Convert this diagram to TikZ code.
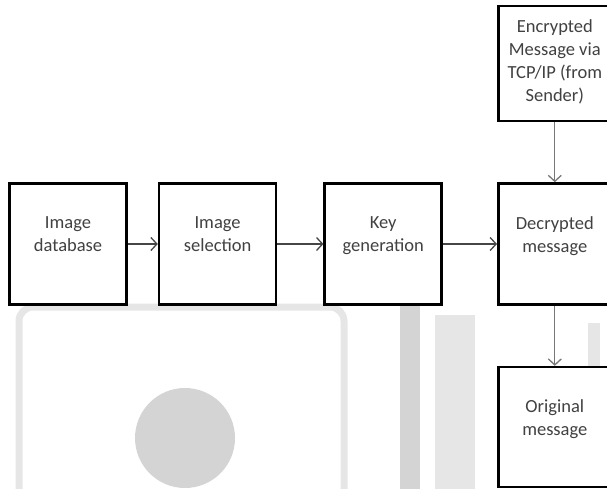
\documentclass[tikz,border=0pt]{standalone}
\usepackage{fontspec}
\setmainfont{Carlito}
\usepackage{xcolor}
\usepackage{tikz}
\usetikzlibrary{arrows.meta, positioning}
\definecolor{boxtext}{RGB}{65, 65, 65}
\definecolor{arrowgray}{RGB}{70, 70, 70}
\definecolor{linkgray}{RGB}{120, 120, 120}
\definecolor{markgray}{RGB}{212, 212, 212}
\definecolor{marklight}{RGB}{230, 230, 230}

\begin{document}
\begin{tikzpicture}[x=1pt, y=1pt,
    box/.style={rectangle, draw, line width=2.6pt, minimum width=117pt,
                minimum height=121pt, align=center, text=boxtext, inner sep=2pt,
                text depth=19pt, font=\fontsize{18.5}{23}\selectfont, fill=white},
    arrow/.style={-{Straight Barb[length=6pt, width=13pt]}, line width=1.3pt,
                  draw=arrowgray},
]
\useasboundingbox (0,0) rectangle (607,-489);

% Faint background marks
\draw[marklight, line width=7pt, rounded corners=14pt]
    (19,-500) -- (19,-307) -- (344,-307) -- (344,-500);
\fill[markgray] (185,-438) circle (50);
\fill[markgray] (400,-265) rectangle (420,-489);
\fill[marklight] (435,-315) rectangle (475,-489);
\fill[marklight] (588,-323) rectangle (600,-445);

% Main row
\node[box] (db) at (68,-244) {Image\\database};
\node[box, right=30pt of db] (sel) {Image\\selection};
\node[box, right=46pt of sel] (keygen) {Key\\generation};
\node[box, minimum width=113pt, right=54pt of keygen] (dec) {Decrypted\\message};

% Right column
\node[box, minimum width=113pt, minimum height=115pt, text depth=6pt,
      above=60pt of dec] (enc)
    {Encrypted\\Message via\\TCP/IP (from\\Sender)};
\node[box, minimum width=113pt, minimum height=120pt, below=60pt of dec] (orig)
    {Original\\message};

% Arrows
\draw[arrow] (db) -- (sel);
\draw[arrow] (sel) -- (keygen);
\draw[arrow] (keygen) -- (dec);
\draw[arrow, draw=linkgray] (enc) -- (dec);
\draw[arrow, draw=linkgray] (dec) -- (orig);

\end{tikzpicture}
\end{document}
